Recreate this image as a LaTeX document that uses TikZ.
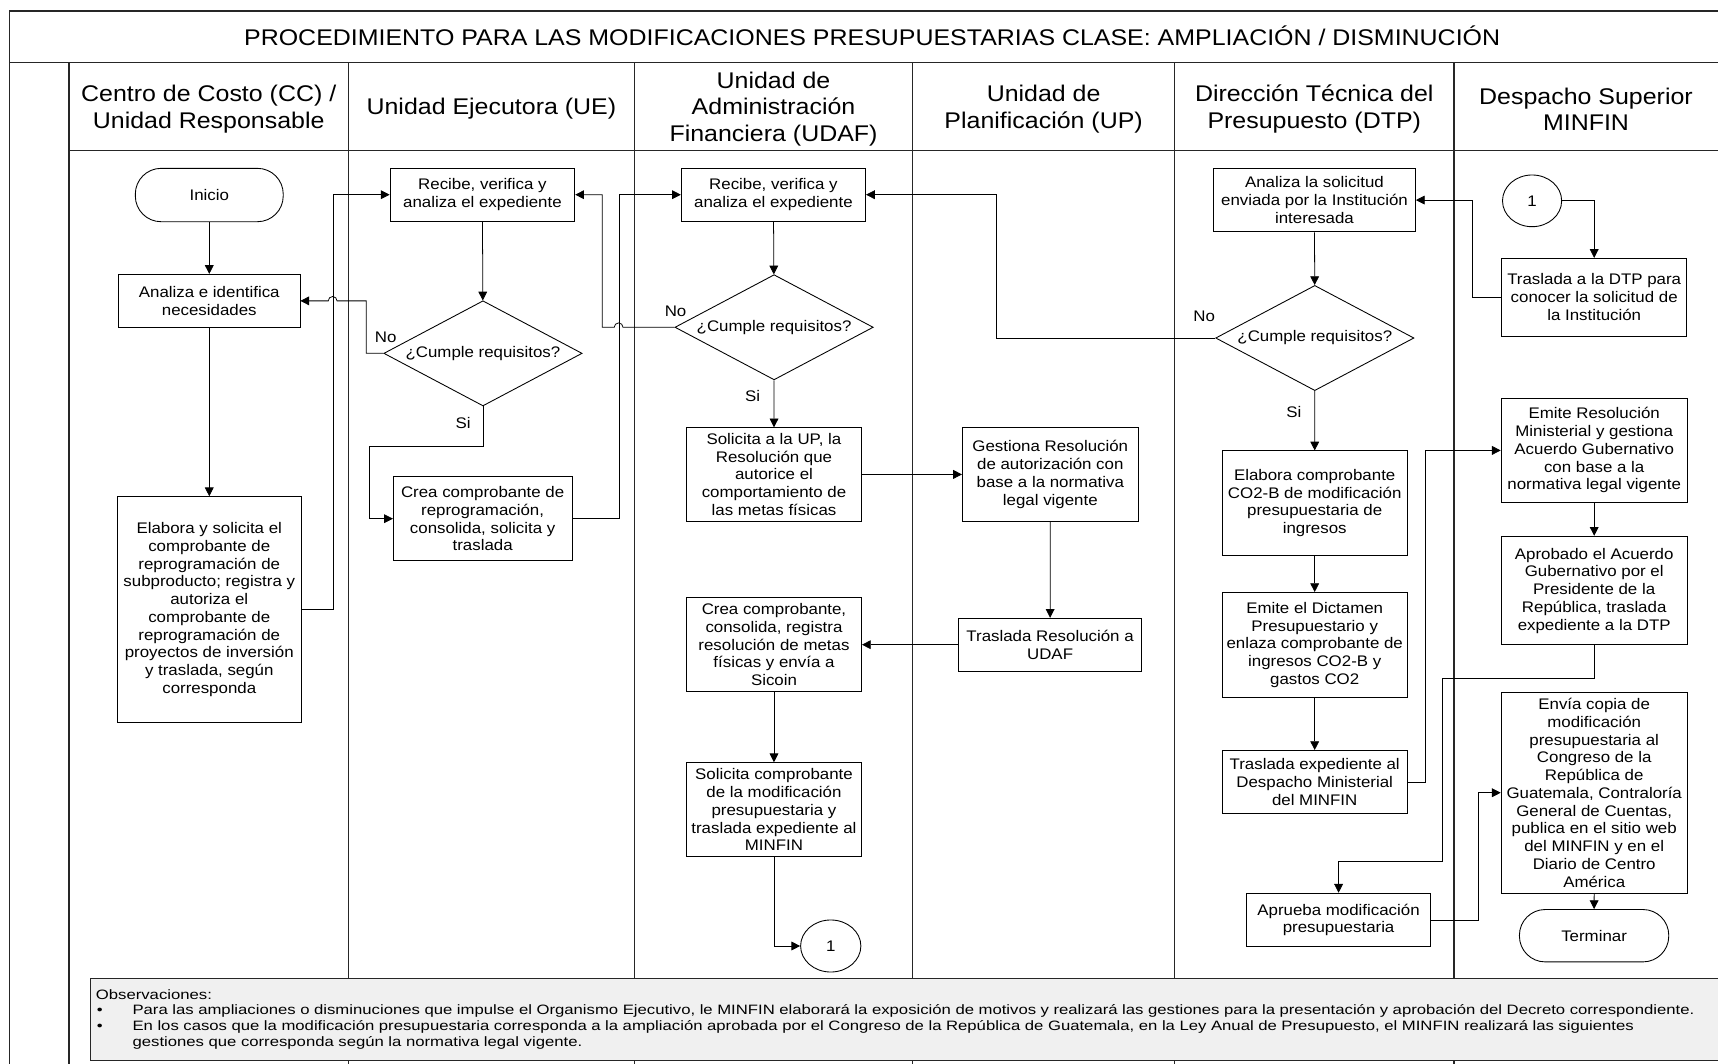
\documentclass[tikz,border=0pt]{standalone}
\usepackage{fontspec}
\setmainfont{Liberation Sans}[FakeStretch=1.1]
\newfontfamily\obsfamily{Liberation Sans}[FakeStretch=1.23]
\usetikzlibrary{shapes.geometric, arrows.meta}
\newcommand{\cajafont}{\fontsize{14}{16.2}\selectfont}
\newcommand{\encfont}{\fontsize{20.7}{24}\selectfont}
\newcommand{\obsfont}{\obsfamily\fontsize{12.4}{14.3}\selectfont}
\tikzset{
	marco/.style={line width=1.4pt, draw=black!85},
	carril/.style={line width=1pt, draw=black!85},
	encabezado/.style={font=\encfont, align=center, inner sep=0pt},
	caja/.style={draw, rectangle, line width=0.8pt, inner sep=1pt, align=center, font=\cajafont},
	terminal/.style={caja, rounded corners=23.5pt},
	decision/.style={draw, diamond, shape aspect=1.88, line width=0.8pt, inner sep=0pt, minimum width=181pt, minimum height=96pt, font=\cajafont},
	conector/.style={draw, ellipse, line width=0.8pt, inner sep=0pt, minimum width=55pt, minimum height=47.5pt, font=\cajafont},
	flujo/.style={line width=0.7pt, -{Triangle[length=8pt,width=8pt]}},
	linea/.style={line width=0.7pt},
	etiqueta/.style={font=\cajafont, inner sep=0pt}
}

\begin{document}
\begin{tikzpicture}[x=1pt, y=-1pt]
	\useasboundingbox (0,0) rectangle (1568,971);

	% marco y carriles
	\draw[marco] (8.5,975) -- (8.5,10) -- (1570,10);
	\draw[marco] (8.5,57) -- (1570,57);
	\draw[carril] (63,137) -- (1570,137);
	\foreach \x in {63,318,579,833,1072,1327}
		\draw[carril] (\x,57) -- (\x,975);

	% encabezados
	\node[encabezado] (titulo) at (796,33) {PROCEDIMIENTO PARA LAS MODIFICACIONES PRESUPUESTARIAS CLASE: AMPLIACIÓN / DISMINUCIÓN};
	\node[encabezado] (hcc) at (190.5,99.5) {Centro de Costo (CC) /\\Unidad Responsable};
	\node[encabezado] (hue) at (448.5,99.5) {Unidad Ejecutora (UE)};
	\node[encabezado] (hudaf) at (706,99.5) {Unidad de\\Administración\\Financiera (UDAF)};
	\node[encabezado] (hup) at (952.5,99.5) {Unidad de\\Planificación (UP)};
	\node[encabezado] (hdtp) at (1199.5,99.5) {Dirección Técnica del\\Presupuesto (DTP)};
	\node[encabezado] (hds) at (1447.5,99.5) {Despacho Superior\\MINFIN};

	% CC
	\node[terminal, minimum width=135pt, minimum height=48.7pt] (inicio) at (191,178) {Inicio};
	\node[caja, minimum width=165.5pt, minimum height=48.4pt] (cc1) at (191,274.6) {Analiza e identifica\\necesidades};
	\node[caja, minimum width=168pt, minimum height=206pt] (cc2) at (191,556.3) {Elabora y solicita el\\comprobante de\\reprogramación de\\subproducto; registra y\\autoriza el\\comprobante de\\reprogramación de\\proyectos de inversión\\y traslada, según\\corresponda};

	% UE
	\node[caja, minimum width=168.6pt, minimum height=48pt] (ue1) at (440.3,177.7) {Recibe, verifica y\\analiza el expediente};
	\node[decision] (ued) at (440.8,322.5) {¿Cumple requisitos?};
	\node[caja, minimum width=163pt, minimum height=76.7pt] (ue2) at (440.5,473.4) {Crea comprobante de\\reprogramación,\\consolida, solicita y\\traslada};

	% UDAF
	\node[caja, minimum width=168.2pt, minimum height=48pt] (ud1) at (705.9,177.7) {Recibe, verifica y\\analiza el expediente};
	\node[decision] (udd) at (706.5,298.7) {¿Cumple requisitos?};
	\node[caja, minimum width=159.3pt, minimum height=85.2pt] (ud2) at (706.4,433) {Solicita a la UP, la\\Resolución que\\autorice el\\comportamiento de\\las metas físicas};
	\node[caja, minimum width=159.8pt, minimum height=85.8pt] (ud3) at (706.4,588.4) {Crea comprobante,\\consolida, registra\\resolución de metas\\físicas y envía a\\Sicoin};
	\node[caja, minimum width=159.8pt, minimum height=85.8pt] (ud4) at (706.4,739) {Solicita comprobante\\de la modificación\\presupuestaria y\\traslada expediente al\\MINFIN};
	\node[conector] (con1) at (758.2,863.4) {1};

	% UP
	\node[caja, minimum width=160.4pt, minimum height=85.7pt] (up1) at (958.6,433) {Gestiona Resolución\\de autorización con\\base a la normativa\\legal vigente};
	\node[caja, minimum width=167.2pt, minimum height=48.3pt] (up2) at (958.4,588.4) {Traslada Resolución a\\UDAF};

	% DTP
	\node[caja, minimum width=184.3pt, minimum height=58pt] (dt1) at (1199.7,182.6) {Analiza la solicitud\\enviada por la Institución\\interesada};
	\node[decision] (dtd) at (1200,308.5) {¿Cumple requisitos?};
	\node[caja, minimum width=169.2pt, minimum height=95pt] (dt2) at (1199.9,459) {Elabora comprobante\\CO2-B de modificación\\presupuestaria de\\ingresos};
	\node[caja, minimum width=169.2pt, minimum height=95.5pt] (dt3) at (1199.9,588.5) {Emite el Dictamen\\Presupuestario y\\enlaza comprobante de\\ingresos CO2-B y\\gastos CO2};
	\node[caja, minimum width=168.8pt, minimum height=57.7pt] (dt4) at (1199.9,713.8) {Traslada expediente al\\Despacho Ministerial\\del MINFIN};
	\node[caja, minimum width=168.3pt, minimum height=49pt] (dt5) at (1221.7,839.7) {Aprueba modificación\\presupuestaria};

	% Despacho Superior
	\node[conector, minimum width=54pt, minimum height=47.2pt] (con2) at (1398.3,183.3) {1};
	\node[caja, minimum width=169pt, minimum height=71pt] (ds1) at (1455,271.3) {Traslada a la DTP para\\conocer la solicitud de\\la Institución};
	\node[caja, minimum width=169.8pt, minimum height=95.2pt] (ds2) at (1455,411.1) {Emite Resolución\\Ministerial y gestiona\\Acuerdo Gubernativo\\con base a la\\normativa legal vigente};
	\node[caja, minimum width=169.8pt, minimum height=99.2pt] (ds3) at (1455,539) {Aprobado el Acuerdo\\Gubernativo por el\\Presidente de la\\República, traslada\\expediente a la DTP};
	\node[caja, minimum width=169.8pt, minimum height=183.4pt] (ds4) at (1455,723.5) {Envía copia de\\modificación\\presupuestaria al\\Congreso de la\\República de\\Guatemala, Contraloría\\General de Cuentas,\\publica en el sitio web\\del MINFIN y en el\\Diario de Centro\\América};
	\node[terminal, minimum width=136.3pt, minimum height=47.8pt] (fin) at (1454.9,854) {Terminar};

	% puntos de quiebre
	\coordinate (s1) at (337.4,407);
	\coordinate (b1) at (1316.8,619);
	\coordinate (b2) at (1316.8,786.5);

	% flechas CC / UE
	\draw[flujo] (inicio) -- (cc1);
	\draw[flujo] (cc1) -- (cc2);
	\draw[flujo] (cc2.east) -- ++(29,0) |- (ue1.west);
	\draw[flujo] (ue1) -- (ued);
	\draw[flujo] (ued.west) -- ++(-15.7,0) -- ++(0,-47.9) -- ++(-26.6,0) arc[start angle=0, end angle=180, radius=4pt] -- (cc1.east);
	\draw[flujo] (ued.south) |- (s1) |- (ue2.west);
	\draw[flujo] (ue2.east) -- ++(43,0) |- (ud1.west);

	% flechas UDAF / UP
	\draw[flujo] (ud1) -- (udd);
	\draw[flujo] (udd.west) -- ++(-47,0) arc[start angle=0, end angle=180, radius=4pt] -- ++(-11,0) |- (ue1.east);
	\draw[flujo] (udd) -- (ud2);
	\draw[flujo] (ud2.east) -- (up1.west);
	\draw[flujo] (up1) -- (up2);
	\draw[flujo] (up2.west) -- (ud3.east);
	\draw[flujo] (ud3) -- (ud4);
	\draw[flujo] (ud4.south) |- (con1.west);

	% flechas DTP / Despacho
	\draw[flujo] (con2.east) -| (ds1.north);
	\draw[flujo] (ds1.west) -- ++(-26.7,0) |- (dt1.east);
	\draw[flujo] (dt1) -- (dtd);
	\draw[flujo] (dtd.west) -- ++(-200,0) |- (ud1.east);
	\draw[flujo] (dtd) -- (dt2);
	\draw[flujo] (dt2) -- (dt3);
	\draw[flujo] (dt3) -- (dt4);
	\draw[flujo] (dt4.east) -- ++(16,0) |- (ds2.west);
	\draw[flujo] (ds2) -- (ds3);
	\draw[flujo] (ds3.south) |- (b1) -- (b2) -| (dt5.north);
	\draw[flujo] (dt5.east) -- ++(43.4,0) |- (ds4.west);
	\draw[flujo] (ds4) -- (fin);

	% etiquetas
	\node[etiqueta] (no1) at (352,308) {No};
	\node[etiqueta] (si1) at (422.6,385.8) {Si};
	\node[etiqueta] (no2) at (616.6,283.8) {No};
	\node[etiqueta] (si2) at (687,361) {Si};
	\node[etiqueta] (no3) at (1099,289) {No};
	\node[etiqueta] (si3) at (1181,376.3) {Si};

	% observaciones
	\node[draw=black!85, fill=black!6, line width=0.8pt, anchor=north west, minimum width=1493pt, minimum height=75pt, inner xsep=5pt, inner ysep=0pt, text width=1483pt, align=left, font=\obsfont] (obs) at (82.1,892.3) {Observaciones:\\
		\mbox{\makebox[33.5pt][l]{\hspace{1pt}\textbullet}Para las ampliaciones o disminuciones que impulse el Organismo Ejecutivo, le MINFIN elaborará la exposición de motivos y realizará las gestiones para la presentación y aprobación del Decreto correspondiente.}\\
		\mbox{\makebox[33.5pt][l]{\hspace{1pt}\textbullet}En los casos que la modificación presupuestaria corresponda a la ampliación aprobada por el Congreso de la República de Guatemala, en la Ley Anual de Presupuesto, el MINFIN realizará las siguientes}\\
		\mbox{\hspace*{33.5pt}gestiones que corresponda según la normativa legal vigente.}};

\end{tikzpicture}
\end{document}
